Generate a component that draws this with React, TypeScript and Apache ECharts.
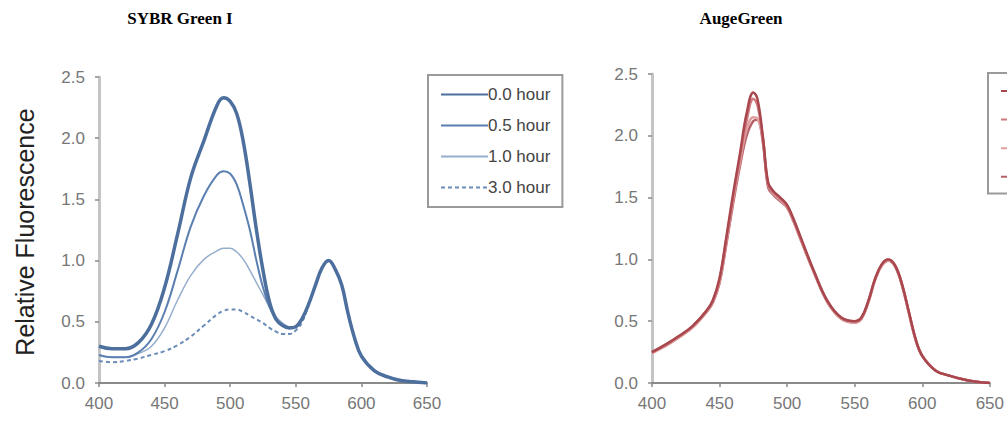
import React, { useEffect, useRef } from "react";
import * as echarts from "echarts";

// ---- Left chart: SYBR Green I ----
const sybrWavelengths = [400, 410, 420, 430, 440, 450, 460, 470, 480, 490, 495, 500, 505, 510, 515, 520, 525, 530, 535, 540, 545, 550, 555, 560, 565, 570, 575, 580, 585, 590, 595, 600, 610, 620, 630, 640, 650];
const sybr00 = [0.30, 0.28, 0.28, 0.33, 0.48, 0.78, 1.22, 1.68, 1.98, 2.27, 2.33, 2.30, 2.20, 1.97, 1.63, 1.25, 0.92, 0.66, 0.52, 0.47, 0.45, 0.46, 0.53, 0.65, 0.80, 0.94, 1.00, 0.93, 0.80, 0.56, 0.36, 0.22, 0.10, 0.05, 0.02, 0.01, 0.00];
const sybr05 = [0.23, 0.21, 0.21, 0.25, 0.36, 0.58, 0.92, 1.28, 1.53, 1.70, 1.73, 1.71, 1.62, 1.45, 1.25, 1.00, 0.78, 0.62, 0.52, 0.47, 0.45, 0.46, 0.53, 0.65, 0.80, 0.94, 1.00, 0.93, 0.80, 0.56, 0.36, 0.22, 0.10, 0.05, 0.02, 0.01, 0.00];
const sybr10 = [0.22, 0.21, 0.21, 0.24, 0.30, 0.45, 0.68, 0.88, 1.01, 1.08, 1.10, 1.10, 1.07, 1.01, 0.92, 0.82, 0.72, 0.62, 0.54, 0.49, 0.46, 0.46, 0.53, 0.65, 0.80, 0.94, 1.00, 0.93, 0.80, 0.56, 0.36, 0.22, 0.10, 0.05, 0.02, 0.01, 0.00];
const sybr30 = [0.18, 0.17, 0.18, 0.20, 0.23, 0.26, 0.31, 0.38, 0.47, 0.56, 0.59, 0.60, 0.60, 0.58, 0.55, 0.52, 0.49, 0.45, 0.42, 0.40, 0.40, 0.43, 0.50, 0.65, 0.80, 0.94, 1.00, 0.93, 0.80, 0.56, 0.36, 0.22, 0.10, 0.05, 0.02, 0.01, 0.00];

// ---- Right chart: AugeGreen ----
const augeWavelengths = [400, 410, 420, 430, 440, 445, 450, 455, 460, 465, 470, 475, 478, 482, 486, 490, 495, 500, 505, 510, 520, 530, 540, 550, 555, 560, 565, 570, 575, 580, 585, 590, 595, 600, 610, 620, 630, 640, 650];
const auge00 = [0.25, 0.31, 0.38, 0.46, 0.58, 0.67, 0.85, 1.18, 1.53, 1.85, 2.18, 2.35, 2.30, 2.00, 1.62, 1.55, 1.50, 1.44, 1.32, 1.18, 0.90, 0.66, 0.53, 0.50, 0.53, 0.66, 0.84, 0.96, 1.00, 0.95, 0.80, 0.58, 0.36, 0.22, 0.10, 0.06, 0.03, 0.01, 0.00];
const auge05 = [0.25, 0.31, 0.38, 0.46, 0.58, 0.66, 0.84, 1.16, 1.50, 1.82, 2.12, 2.30, 2.25, 1.98, 1.60, 1.54, 1.49, 1.43, 1.31, 1.17, 0.90, 0.66, 0.53, 0.50, 0.53, 0.66, 0.84, 0.96, 1.00, 0.95, 0.80, 0.58, 0.36, 0.22, 0.10, 0.06, 0.03, 0.01, 0.00];
const auge10 = [0.24, 0.30, 0.37, 0.45, 0.57, 0.65, 0.82, 1.14, 1.48, 1.78, 2.05, 2.15, 2.14, 1.98, 1.60, 1.53, 1.48, 1.42, 1.30, 1.16, 0.89, 0.65, 0.52, 0.49, 0.52, 0.65, 0.83, 0.95, 0.99, 0.94, 0.79, 0.57, 0.35, 0.22, 0.10, 0.06, 0.03, 0.01, 0.00];
const auge30 = [0.25, 0.30, 0.37, 0.45, 0.57, 0.65, 0.81, 1.12, 1.45, 1.75, 2.00, 2.12, 2.13, 1.95, 1.58, 1.52, 1.47, 1.42, 1.30, 1.16, 0.89, 0.65, 0.52, 0.49, 0.52, 0.65, 0.83, 0.95, 0.99, 0.94, 0.79, 0.57, 0.35, 0.22, 0.10, 0.06, 0.03, 0.01, 0.00];

const seriesNames = ["0.0 hour", "0.5 hour", "1.0 hour", "3.0 hour"];
const xTicks = { min: 400, max: 650, interval: 50 };
const yTicks = { min: 0, max: 2.5, interval: 0.5 };

const pairs = (xs: number[], ys: number[]) => xs.map((x, i) => [x, ys[i]]);

export default function App() {
  const ref = useRef<HTMLDivElement>(null);
  useEffect(() => {
    if (!ref.current) return;
    const chart = echarts.init(ref.current, null, { renderer: "svg" });
    const font = "'Liberation Sans', Arial, sans-serif";
    const xAxisBase = (gridIndex: number) => ({
      type: "value",
      gridIndex,
      min: xTicks.min,
      max: xTicks.max,
      interval: xTicks.interval,
      axisLine: { show: true, onZero: false, lineStyle: { color: "#8a8a8a", width: 2 } },
      axisTick: { show: true, inside: false, length: 4, lineStyle: { color: "#8a8a8a", width: 1.5 } },
      axisLabel: { color: "#777", fontSize: 17, fontFamily: font, margin: 12 },
      splitLine: { show: false },
    });
    const yAxisBase = (gridIndex: number) => ({
      type: "value",
      gridIndex,
      min: yTicks.min,
      max: yTicks.max,
      interval: yTicks.interval,
      axisLine: { show: true, lineStyle: { color: "#c4c4c4", width: 3 } },
      axisTick: { show: true, inside: false, length: 4, lineStyle: { color: "#8a8a8a", width: 1.5 } },
      axisLabel: { color: "#777", fontSize: 17, fontFamily: font, margin: 14, formatter: (v: number) => v.toFixed(1) },
      splitLine: { show: false },
    });
    const leftStyles = [
      { color: "#4c6f9e", width: 3.5, type: "solid" },
      { color: "#5a7fb0", width: 2, type: "solid" },
      { color: "#95aecd", width: 1.5, type: "solid" },
      { color: "#6a8cb8", width: 2, type: [4, 3] },
    ];
    const rightColors = ["#a8474e", "#d07a80", "#e0a0a0", "#b86068"];
    const leftData = [sybr00, sybr05, sybr10, sybr30];
    const rightData = [auge00, auge05, auge10, auge30];
    const legendBase = {
      orient: "vertical",
      backgroundColor: "#fff",
      borderColor: "#9a9a9a",
      borderWidth: 2,
      padding: [11, 12, 11, 12],
      itemWidth: 47,
      itemHeight: 14,
      itemGap: 14,
      itemStyle: { opacity: 0 },
      textStyle: { color: "#444", fontSize: 17, fontFamily: font, padding: [0, 0, 0, -5] },
    };
    chart.setOption({
      animation: false,
      backgroundColor: "#fff",
      graphic: [
        { type: "text", x: 180, y: 18, style: { text: "SYBR Green I", font: "bold 17px 'Liberation Serif', 'Times New Roman', serif", fill: "#000", align: "center", verticalAlign: "middle" } },
        { type: "text", x: 741, y: 18, style: { text: "AugeGreen", font: "bold 17px 'Liberation Serif', 'Times New Roman', serif", fill: "#000", align: "center", verticalAlign: "middle" } },
        { type: "text", x: 25, y: 232, rotation: Math.PI / 2, style: { text: "Relative Fluorescence", font: "25px 'Liberation Sans', Arial, sans-serif", fill: "#222", align: "center", verticalAlign: "middle" } },
      ],
      grid: [
        { left: 99, top: 77, width: 328, height: 306 },
        { left: 652, top: 74, width: 338, height: 309 },
      ],
      xAxis: [xAxisBase(0), xAxisBase(1)],
      yAxis: [yAxisBase(0), yAxisBase(1)],
      legend: [
        { ...legendBase, left: 428, top: 75, data: seriesNames.map((n) => ({ name: n })) },
        {
          ...legendBase,
          left: 988,
          top: 73,
          padding: [11, 40, 11, 12],
          itemGap: 16,
          formatter: () => "",
          data: seriesNames.map((n) => ({ name: n + " " })),
        },
      ],
      series: [
        ...leftData.map((d, i) => ({
          name: seriesNames[i],
          type: "line",
          xAxisIndex: 0,
          yAxisIndex: 0,
          data: pairs(sybrWavelengths, d),
          smooth: 0.4,
          symbol: "none",
          color: leftStyles[i].color,
          lineStyle: { color: leftStyles[i].color, width: leftStyles[i].width, type: leftStyles[i].type },
          z: 10 - i,
        })),
        ...rightData.map((d, i) => ({
          name: seriesNames[i] + " ",
          type: "line",
          xAxisIndex: 1,
          yAxisIndex: 1,
          data: pairs(augeWavelengths, d),
          smooth: 0.4,
          symbol: "none",
          color: rightColors[i],
          lineStyle: { color: rightColors[i], width: 2.5 },
          z: 10 - i,
        })),
      ],
    });
    return () => chart.dispose();
  }, []);
  return <div ref={ref} style={{ position: "fixed", left: 0, top: 0, width: 1007, height: 423 }} />;
}
